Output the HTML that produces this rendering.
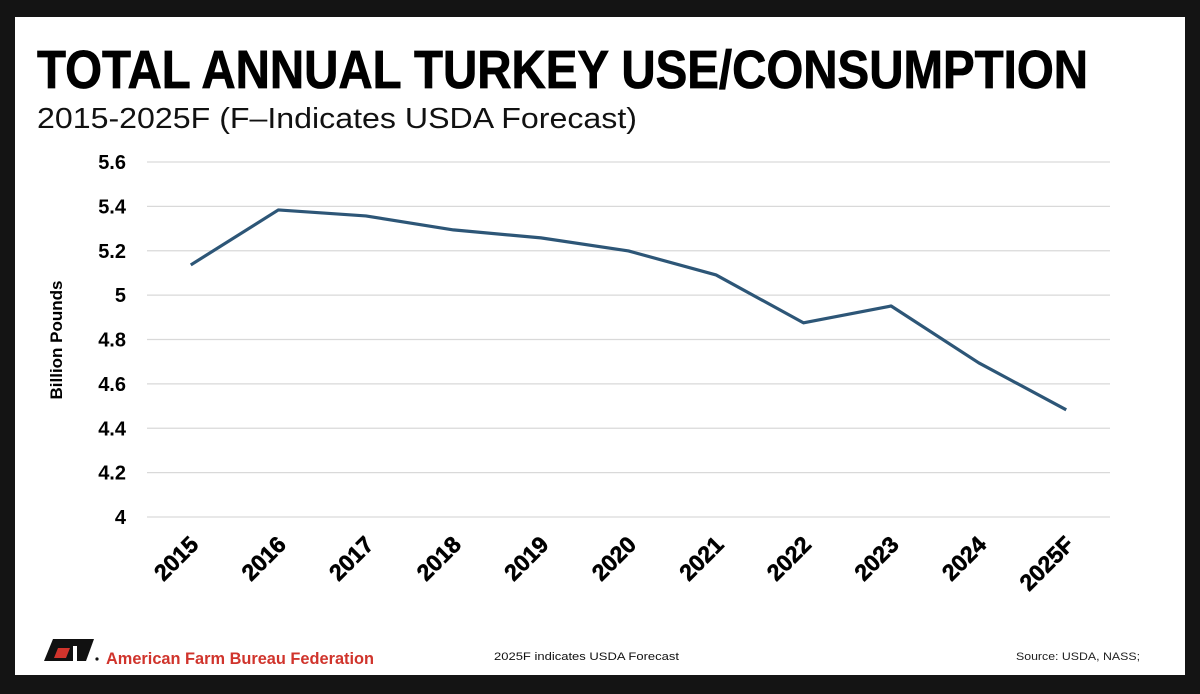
<!DOCTYPE html>
<html><head><meta charset="utf-8"><style>
html,body{margin:0;padding:0;background:#141414;}
svg{display:block;font-family:"Liberation Sans",sans-serif;}
</style></head><body>
<svg width="1200" height="694" viewBox="0 0 1200 694">
<rect x="15" y="17" width="1170" height="658" fill="#fff"/>
<text x="37" y="88" font-size="54" font-weight="bold" textLength="1051" lengthAdjust="spacingAndGlyphs" fill="#000" stroke="#000" stroke-width="0.8">TOTAL ANNUAL TURKEY USE/CONSUMPTION</text>
<text x="37" y="128" font-size="29" textLength="600" lengthAdjust="spacingAndGlyphs" fill="#111">2015-2025F (F–Indicates USDA Forecast)</text>
<g id="grid"></g>
<g id="yticks"></g>
<g id="xticks"></g>
<polyline id="line" fill="none" stroke="#2d5677" stroke-width="3.2" stroke-linejoin="round"/>
<text transform="translate(62,340) rotate(-90)" text-anchor="middle" font-size="17" font-weight="bold">Billion Pounds</text>
<g>
<polygon points="44,661 53,639 94,639 86,661" fill="#111"/>
<polygon points="58,648 70,648 66,658 54,658" fill="#d0342c"/>
<rect x="73" y="646" width="4" height="15" fill="#fff"/>
<circle cx="97" cy="659" r="1.6" fill="#111"/>
</g>
<text x="106" y="664" font-size="16.5" font-weight="bold" textLength="268" lengthAdjust="spacingAndGlyphs" fill="#d0342c">American Farm Bureau Federation</text>
<text x="494" y="660" font-size="11" textLength="185" lengthAdjust="spacingAndGlyphs" fill="#111">2025F indicates USDA Forecast</text>
<text x="1016" y="660" font-size="11" textLength="124" lengthAdjust="spacingAndGlyphs" fill="#222">Source: USDA, NASS;</text>
</svg>
<script>
const categories=["2015","2016","2017","2018","2019","2020","2021","2022","2023","2024","2025F"];
const values=[5.136,5.384,5.357,5.294,5.258,5.199,5.091,4.875,4.951,4.695,4.483];
const yTicks=[4,4.2,4.4,4.6,4.8,5,5.2,5.4,5.6];
const yTickLabels=["4","4.2","4.4","4.6","4.8","5","5.2","5.4","5.6"];
const NS="http://www.w3.org/2000/svg";
const x0=147,x1=1110,yTop=162,yBot=517,yMin=4,yMax=5.6;
const band=(x1-x0)/categories.length;
const xs=i=>x0+band*(i+0.5);
const ys=v=>yBot-(v-yMin)/(yMax-yMin)*(yBot-yTop);
const grid=document.getElementById('grid'),yt=document.getElementById('yticks'),xt=document.getElementById('xticks');
yTicks.forEach((t,i)=>{
 const l=document.createElementNS(NS,'line');
 l.setAttribute('x1',x0);l.setAttribute('x2',x1);l.setAttribute('y1',ys(t));l.setAttribute('y2',ys(t));
 l.setAttribute('stroke','#d9d9d9');l.setAttribute('stroke-width','1.2');
 
 
 grid.appendChild(l);
 const tx=document.createElementNS(NS,'text');
 tx.setAttribute('x',126);tx.setAttribute('y',ys(t)+7);tx.setAttribute('text-anchor','end');
 tx.setAttribute('font-size','20');tx.setAttribute('font-weight','bold');
 tx.textContent=yTickLabels[i];
 
 
 yt.appendChild(tx);
});
categories.forEach((c,i)=>{
 const tx=document.createElementNS(NS,'text');
 const x=xs(i)+9,y=546;
 tx.setAttribute('transform','translate('+x+','+y+') rotate(-45)');
 tx.setAttribute('text-anchor','end');tx.setAttribute('font-size','23');tx.setAttribute('font-weight','bold');
 tx.setAttribute('stroke','#000');tx.setAttribute('stroke-width','0.6');
 tx.textContent=c;
 
 
 xt.appendChild(tx);
});
document.getElementById('line').setAttribute('points',values.map((v,i)=>xs(i)+','+ys(v)).join(' '));
</script>
</body></html>
